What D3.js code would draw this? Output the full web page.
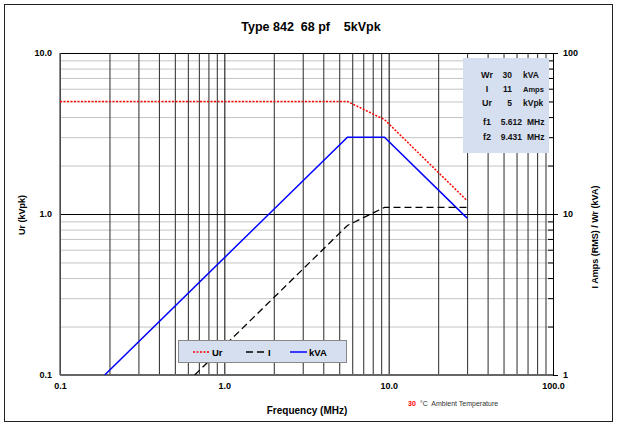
<!DOCTYPE html>
<html><head><meta charset="utf-8">
<script src="https://cdn.jsdelivr.net/npm/d3@7"></script>
<style>body{margin:0;background:#fff}svg{display:block}text{font-family:"Liberation Sans",Arial,sans-serif}</style>
</head><body>
<svg id="c" width="617" height="425"></svg>
<script>
// ---- data ----
const urFreq = [0.1, 5.612, 9.431, 30];
const urVals = [5, 5, 3.86, 1.21];
const iFreq = [0.66, 5.612, 9.431, 30];
const iVals = [1, 8.48, 11, 11];
const kvaFreq = [0.187, 5.612, 9.431, 30];
const kvaVals = [1, 30, 30, 9.43];
const xTicks = [0.1, 1, 10, 100];
const yLeftTicks = [0.1, 1, 10];
const yRightTicks = [1, 10, 100];
const infoLabels = ["Wr", "I", "Ur", "f1", "f2"];
const infoValues = ["30", "11", "5", "5.612", "9.431"];
const infoUnits = ["kVA", "Amps", "kVpk", "MHz", "MHz"];
const legendNames = ["Ur", "I", "kVA"];

const svg = d3.select("#c");
const L = 60, R = 553, T = 53, B = 375;
const x = d3.scaleLog().domain([0.1, 100]).range([L, R]);
const yL = d3.scaleLog().domain([0.1, 10]).range([B, T]);
const yR = d3.scaleLog().domain([1, 100]).range([B, T]);

// outer frame
svg.append("rect").attr("x", 4.5).attr("y", 4.5).attr("width", 608).attr("height", 417)
  .attr("fill", "#fff").attr("stroke", "#222").attr("stroke-width", 1);

// grid values
const minorX = [], majorX = [0.1, 1, 10, 100];
[0.1, 1, 10].forEach(d => { for (let k = 2; k <= 9; k++) minorX.push(+(d * k).toPrecision(3)); });
const minorY = [];
[0.1, 1].forEach(d => { for (let k = 2; k <= 9; k++) minorY.push(+(d * k).toPrecision(3)); });

const g = svg.append("g");
g.append("g").attr("transform", `translate(${L},0)`)
  .call(d3.axisLeft(yL).tickValues(minorY).tickSize(-(R - L)).tickFormat(""))
  .call(s => { s.select(".domain").remove(); s.selectAll("line").attr("stroke", "#c4c4c4"); });
g.append("g").attr("transform", `translate(0,${B})`)
  .call(d3.axisBottom(x).tickValues(minorX).tickSize(-(B - T)).tickFormat(""))
  .call(s => { s.select(".domain").remove(); s.selectAll("line").attr("stroke", "#3c3c3c").attr("stroke-width", 1.1); });
g.append("g").attr("transform", `translate(${L},0)`)
  .call(d3.axisLeft(yL).tickValues([1, 10]).tickSize(-(R - L)).tickFormat(""))
  .call(s => { s.select(".domain").remove(); s.selectAll("line").attr("stroke", "#000"); });
g.append("g").attr("transform", `translate(0,${B})`)
  .call(d3.axisBottom(x).tickValues(majorX).tickSize(-(B - T)).tickFormat(""))
  .call(s => { s.select(".domain").remove(); s.selectAll("line").attr("stroke", "#000"); });

// right axis ticks
const minorR = [];
[1, 10].forEach(d => { for (let k = 2; k <= 9; k++) minorR.push(d * k); });
g.append("g").attr("transform", `translate(${R},0)`)
  .call(d3.axisLeft(yR).tickValues(minorR).tickSize(5).tickFormat(""))
  .call(s => { s.select(".domain").remove(); s.selectAll("line").attr("stroke", "#000"); });
g.append("g").attr("transform", `translate(${R},0)`)
  .call(d3.axisRight(yR).tickValues(yRightTicks).tickSize(5).tickFormat(""))
  .call(s => { s.select(".domain").attr("stroke", "#000"); s.selectAll("line").attr("stroke", "#000"); });

// axis lines left/bottom
svg.append("line").attr("x1", L).attr("x2", L).attr("y1", T).attr("y2", B).attr("stroke", "#666").attr("stroke-width", 1.5);
svg.append("line").attr("x1", L).attr("x2", R).attr("y1", B).attr("y2", B).attr("stroke", "#666").attr("stroke-width", 2);

// tick labels
const fmt = d3.format(".1f");
const styleTxt = s => s.selectAll("text").attr("font-size", 9).attr("font-weight", "bold").attr("font-family", "Liberation Sans, Arial").attr("fill", "#000");
svg.append("g").attr("transform", `translate(${L},0)`)
  .call(d3.axisLeft(yL).tickValues(yLeftTicks).tickSize(0).tickPadding(8).tickFormat(fmt))
  .call(s => { s.select(".domain").remove(); styleTxt(s); });
svg.append("g").attr("transform", `translate(0,${B})`)
  .call(d3.axisBottom(x).tickValues(xTicks).tickSize(0).tickPadding(8).tickFormat(fmt))
  .call(s => { s.select(".domain").remove(); styleTxt(s); });
svg.append("g").attr("transform", `translate(${R},0)`)
  .call(d3.axisRight(yR).tickValues(yRightTicks).tickSize(0).tickPadding(10).tickFormat(d3.format("d")))
  .call(s => { s.select(".domain").remove(); styleTxt(s); });

// series
svg.append("clipPath").attr("id", "pc").append("rect").attr("x", L).attr("y", T).attr("width", R - L).attr("height", B - T);
const lines = svg.append("g").attr("clip-path", "url(#pc)");
const mk = (fs, vs) => fs.map((f, i) => [f, vs[i]]);
const lineL = d3.line().x(d => x(d[0])).y(d => yL(d[1]));
const lineR = d3.line().x(d => x(d[0])).y(d => yR(d[1]));
lines.append("path").attr("d", lineR(mk(kvaFreq, kvaVals))).attr("fill", "none").attr("stroke", "#0000ff").attr("stroke-width", 1.5);
lines.append("path").attr("d", lineR(mk(iFreq, iVals))).attr("fill", "none").attr("stroke", "#000").attr("stroke-width", 1.3).attr("stroke-dasharray", "7,4");
lines.append("path").attr("d", lineL(mk(urFreq, urVals))).attr("fill", "none").attr("stroke", "#ff0000").attr("stroke-width", 1.5).attr("stroke-dasharray", "2,1.5");

// info box
const ib = svg.append("g");
ib.append("rect").attr("x", 463).attr("y", 58).attr("width", 86).attr("height", 95).attr("fill", "#d5dff0");
const rowY = [75, 89, 103, 122, 137];
infoLabels.forEach((t, i) => {
  const ty = rowY[i];
  ib.append("text").attr("x", 487).attr("y", ty + 3).attr("text-anchor", "middle").attr("font-size", 9).attr("font-weight", "bold").attr("fill", "#111").text(t);
  ib.append("text").attr("x", i < 3 ? 512 : 522).attr("y", ty + 3).attr("text-anchor", "end").attr("font-size", 8.5).attr("font-weight", "bold").attr("fill", "#111").text(infoValues[i]);
  ib.append("text").attr("x", i < 3 ? 523 : 527).attr("y", ty + 3).attr("font-size", i === 1 ? 7.5 : 8.5).attr("font-weight", "bold").attr("fill", "#111").text(infoUnits[i]);
});

// legend
const lg = svg.append("g");
lg.append("rect").attr("x", 178.5).attr("y", 340.5).attr("width", 168).attr("height", 22).attr("fill", "#d5dff0").attr("stroke", "#888");
const ly = 352;
const legendStyles = [
  {x1: 193, x2: 210, c: "#ff0000", dash: "2,1.5", w: 1.5, tx: 212},
  {x1: 246, x2: 264, c: "#000", dash: "7,4", w: 1.3, tx: 268},
  {x1: 290, x2: 307, c: "#0000ff", dash: null, w: 1.5, tx: 309}
];
legendNames.forEach((n, i) => {
  const s = legendStyles[i];
  lg.append("line").attr("x1", s.x1).attr("x2", s.x2).attr("y1", ly).attr("y2", ly).attr("stroke", s.c).attr("stroke-width", s.w).attr("stroke-dasharray", s.dash);
  lg.append("text").attr("x", s.tx).attr("y", ly + 3.5).attr("font-size", 9.5).attr("font-weight", "bold").text(n);
});

// titles
svg.append("text").attr("x", 311).attr("y", 31).attr("text-anchor", "middle").attr("font-size", 12.5).attr("font-weight", "bold")
  .style("white-space", "pre").text("Type 842  68 pf    5kVpk");
svg.append("text").attr("transform", "translate(25,215) rotate(-90)").attr("text-anchor", "middle").attr("font-size", 9).attr("font-weight", "bold").text("Ur (kVpk)");
svg.append("text").attr("transform", "translate(598,237) rotate(-90)").attr("text-anchor", "middle").attr("font-size", 9).attr("font-weight", "bold").text("I Amps (RMS) / Wr (kVA)");
svg.append("text").attr("x", 307).attr("y", 414).attr("text-anchor", "middle").attr("font-size", 10).attr("font-weight", "bold").text("Frequency (MHz)");
svg.append("text").attr("x", 408).attr("y", 406).attr("font-size", 7).attr("font-weight", "bold").attr("fill", "#ff0000").text("30");
svg.append("text").attr("x", 420).attr("y", 406).attr("font-size", 7).attr("fill", "#333").style("white-space", "pre").text("°C  Ambient Temperature");
</script>
</body></html>
